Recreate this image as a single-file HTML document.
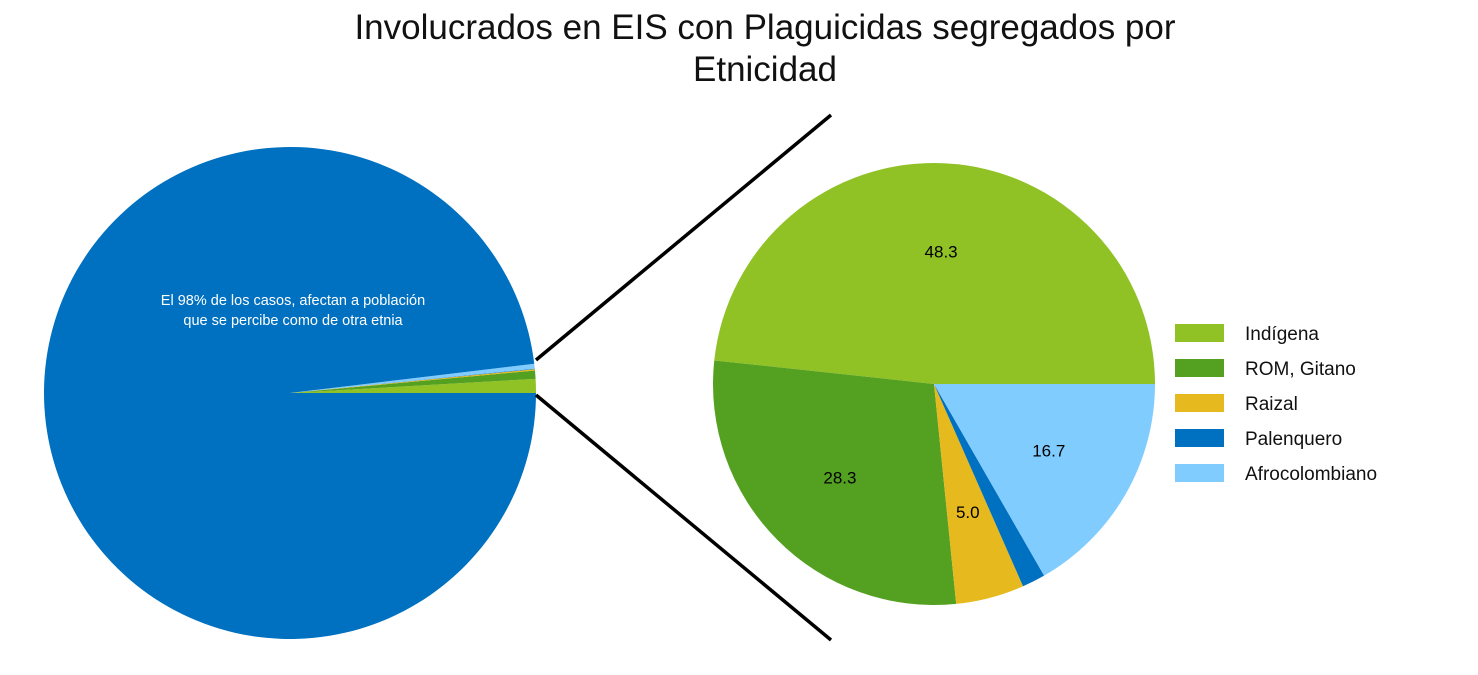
<!DOCTYPE html>
<html><head><meta charset="utf-8"><style>
body{margin:0;background:#fff;width:1478px;height:670px;overflow:hidden;font-family:"Liberation Sans",sans-serif}
</style></head><body>
<svg width="1478" height="670">
<text x="765" y="39" text-anchor="middle" font-size="35" font-weight="300" fill="#111">Involucrados en EIS con Plaguicidas segregados por</text>
<text x="765" y="81" text-anchor="middle" font-size="35" fill="#111">Etnicidad</text>
<g id="left"></g>
<g id="right"></g>
<line x1="536" y1="360" x2="831" y2="115" stroke="#000" stroke-width="3.5"/>
<line x1="536" y1="395" x2="831" y2="640" stroke="#000" stroke-width="3.5"/>
<text x="293" y="305" text-anchor="middle" font-size="14.5" fill="#fff">El 98% de los casos, afectan a población</text>
<text x="293" y="325" text-anchor="middle" font-size="14.5" fill="#fff">que se percibe como de otra etnia</text>
<g id="legend"></g>
</svg>
<script>
const categories=["Indígena","ROM, Gitano","Raizal","Palenquero","Afrocolombiano"];
const values=[48.3,28.3,5.0,1.7,16.7];
const colors=["#90c226","#54a021","#e6b91e","#0070c0","#80ccff"];
const otherShare=98.1;
const NS="http://www.w3.org/2000/svg";
function arc(g,cx,cy,r,a0,a1,fill,name){
  const p=document.createElementNS(NS,"path");
  const x0=cx+r*Math.cos(a0),y0=cy-r*Math.sin(a0),x1=cx+r*Math.cos(a1),y1=cy-r*Math.sin(a1);
  const large=(a1-a0)>Math.PI?1:0;
  p.setAttribute("d",`M${cx},${cy}L${x0},${y0}A${r},${r} 0 ${large} 0 ${x1},${y1}Z`);
  p.setAttribute("fill",fill);
  
  
  g.appendChild(p);
}
const tot=values.reduce((a,b)=>a+b,0);
// left pie
const L=document.getElementById("left");
let a=0;const smallShare=100-otherShare;
values.forEach((v,i)=>{const s=v/tot*smallShare/100*2*Math.PI;arc(L,290,393,246,a,a+s,colors[i],"overview-slice-"+i);a+=s;});
arc(L,290,393,246,a,2*Math.PI,"#0070c0","overview-slice-other");
// right pie
const R=document.getElementById("right");
a=0;
values.forEach((v,i)=>{const s=v/tot*2*Math.PI;arc(R,934,384,221,a,a+s,colors[i],"detail-slice-"+i);
  if(v>3){const m=a+s/2,rr=221*0.6;const t=document.createElementNS(NS,"text");
  t.setAttribute("x",934+rr*Math.cos(m));t.setAttribute("y",384-rr*Math.sin(m)+6);
  t.setAttribute("text-anchor","middle");t.setAttribute("font-size","17");t.textContent=v.toFixed(1);
  
  
  R.appendChild(t);}
  a+=s;});
// legend
const G=document.getElementById("legend");
categories.forEach((c,i)=>{const y=333+i*35;
  const r=document.createElementNS(NS,"rect");r.setAttribute("x",1175);r.setAttribute("y",y-9);r.setAttribute("width",49);r.setAttribute("height",18);r.setAttribute("fill",colors[i]);
  
  
  G.appendChild(r);
  const t=document.createElementNS(NS,"text");t.setAttribute("x",1245);t.setAttribute("y",y+7);t.setAttribute("font-size","19");t.setAttribute("fill","#111");t.textContent=c;
  
  
  G.appendChild(t);});
</script>
</body></html>
